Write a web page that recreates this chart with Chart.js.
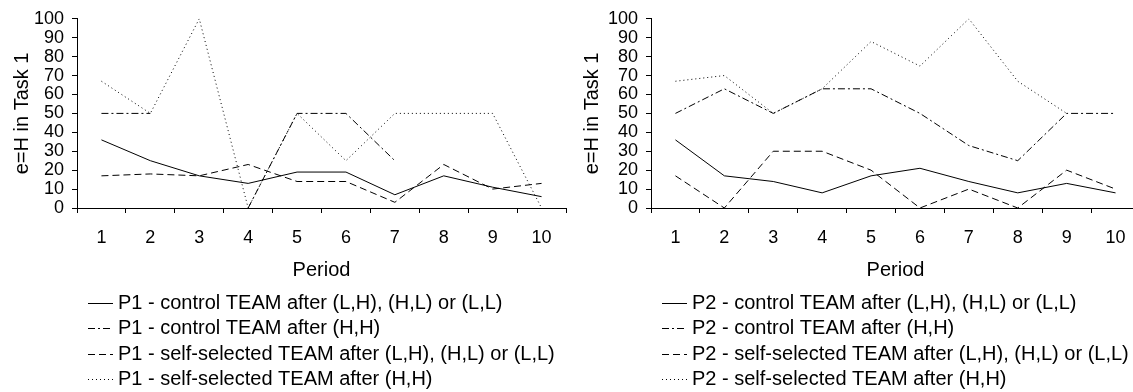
<!DOCTYPE html>
<html>
<head>
<meta charset="utf-8">
<script src="https://cdn.jsdelivr.net/npm/chart.js@4/dist/chart.umd.min.js"></script>
<style>
  html, body { margin: 0; padding: 0; background: #fff; overflow: hidden; }
  .box { position: absolute; top: 0; }
</style>
</head>
<body>
<div class="box" style="left:0"><canvas id="chart-p1" width="570" height="392"></canvas></div>
<div class="box" style="left:566px"><canvas id="chart-p2" width="590" height="392"></canvas></div>
<script>
"use strict";

// periods on the x axis
var periods = ["1", "2", "3", "4", "5", "6", "7", "8", "9", "10"];

// P1 (left panel)
var p1ControlMixed = [36, 25, 17, 13, 19, 19, 7, 17, 11, 6];
var p1ControlHH = [50, 50, null, 0, 50, 50, 25, null, null, null];
var p1SelfMixed = [17, 18, 17, 23, 14, 14, 3, 23, 10, 13];
var p1SelfHH = [67, 50, 100, 0, 50, 25, 50, 50, 50, 0];

// P2 (right panel)
var p2ControlMixed = [36, 17, 14, 8, 17, 21, 14, 8, 13, 8];
var p2ControlHH = [50, 63, 50, 63, 63, 50, 33, 25, 50, 50];
var p2SelfMixed = [17, 0, 30, 30, 20, 0, 10, 0, 20, 10];
var p2SelfHH = [67, 70, 50, 63, 88, 75, 100, 67, 50, null];

var yTicks = [0, 10, 20, 30, 40, 50, 60, 70, 80, 90, 100];

// line styles: solid, dash-dot, dashed, dotted
var dashes = [[], [7, 3, 2, 3], [7, 4], [1, 3]];

var FONT = "'Liberation Sans', Arial, sans-serif";

// legend drawn as a list of line samples under the plot
var lineLegend = {
    id: "lineLegend",
    afterDraw: function (chart) {
        var opts = chart.options.plugins.lineLegend;
        var ctx = chart.ctx;
        ctx.save();
        ctx.font = opts.size + "px " + FONT;
        ctx.textBaseline = "middle";
        ctx.textAlign = "left";
        chart.data.datasets.forEach(function (ds, i) {
            var y = Math.round(opts.top + i * opts.row) + 0.5;
            ctx.beginPath();
            ctx.setLineDash(ds.borderDash);
            ctx.strokeStyle = "#000";
            ctx.lineWidth = 1;
            ctx.moveTo(opts.left, y);
            ctx.lineTo(opts.left + 25, y);
            ctx.stroke();
            ctx.setLineDash([]);
            ctx.fillStyle = "#000";
            ctx.fillText(ds.label, opts.left + 30, y);
        });
        ctx.restore();
    }
};

function generateChart(config) {
    var names = ["control TEAM after (L,H), (H,L) or (L,L)",
                 "control TEAM after (H,H)",
                 "self-selected TEAM after (L,H), (H,L) or (L,L)",
                 "self-selected TEAM after (H,H)"];
    var datasets = config.series.map(function (values, i) {
        return {
            label: config.prefix + " - " + names[i],
            data: values,
            borderColor: "#000",
            borderWidth: 1,
            borderDash: dashes[i],
            pointRadius: 0,
            fill: false,
            tension: 0
        };
    });

    new Chart(document.getElementById(config.id), {
        type: "line",
        data: { labels: periods, datasets: datasets },
        plugins: [lineLegend],
        options: {
            responsive: false,
            animation: false,
            devicePixelRatio: 1,
            layout: { padding: { left: 0, right: config.padRight, top: 16, bottom: 110 } },
            plugins: {
                legend: { display: false },
                tooltip: { enabled: false },
                lineLegend: { left: config.legendLeft, top: 303, row: 25.3, size: 20 }
            },
            scales: {
                x: {
                    type: "category",
                    offset: true,
                    afterFit: function (scale) { scale.height = 74; },
                    grid: { offset: true, drawOnChartArea: false, tickLength: 5, color: "#000" },
                    border: { display: true, color: "#000" },
                    ticks: { color: "#000", padding: 14, font: { family: FONT, size: 18 }, maxRotation: 0, autoSkip: false },
                    title: { display: true, text: "Period", color: "#000", padding: { top: 0, bottom: 0 }, font: { family: FONT, size: 20 } }
                },
                y: {
                    min: 0,
                    max: 100,
                    afterFit: function (scale) { scale.width = config.yWidth; },
                    afterBuildTicks: function (scale) {
                        scale.ticks = yTicks.map(function (v) { return { value: v }; });
                    },
                    grid: { drawOnChartArea: false, tickLength: 5, color: "#000" },
                    border: { display: true, color: "#000" },
                    ticks: { color: "#000", padding: 8, autoSkip: false, font: { family: FONT, size: 18 } },
                    title: { display: true, text: "e=H in Task 1", color: "#000", padding: { top: config.titlePad, bottom: 0 }, font: { family: FONT, size: 20 } }
                }
            }
        }
    });
}

generateChart({
    id: "chart-p1",
    prefix: "P1",
    series: [p1ControlMixed, p1ControlHH, p1SelfMixed, p1SelfHH],
    yWidth: 77,
    padRight: 4,
    titlePad: 10,
    legendLeft: 88
});

generateChart({
    id: "chart-p2",
    prefix: "P2",
    series: [p2ControlMixed, p2ControlHH, p2SelfMixed, p2SelfHH],
    yWidth: 85,
    padRight: 16,
    titlePad: 14,
    legendLeft: 96
});
</script>
</body>
</html>
